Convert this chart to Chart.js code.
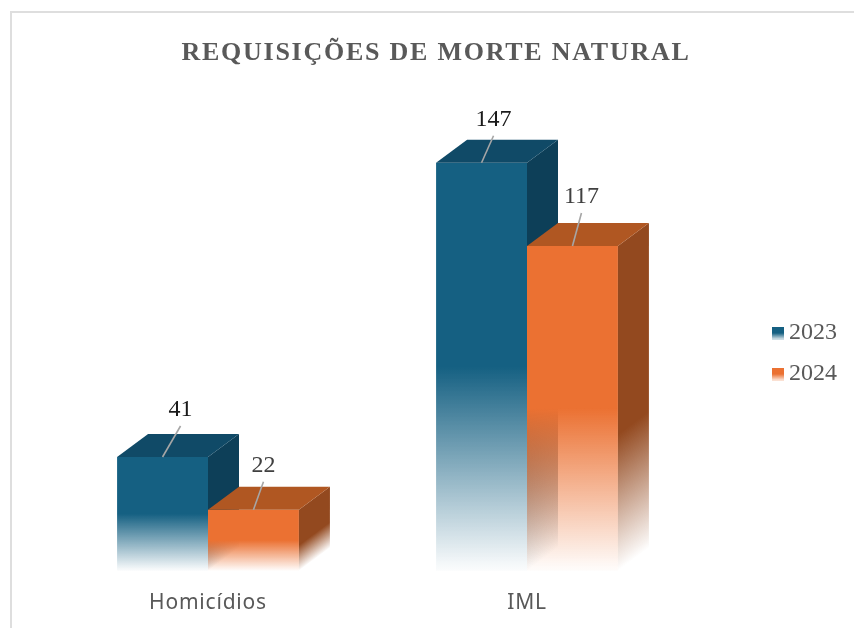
<!DOCTYPE html>
<html><head><meta charset="utf-8">
<style>html,body{margin:0;padding:0;background:#fff}#w{position:relative;width:854px;height:628px;overflow:hidden}
#w:before{content:"";position:absolute;left:10px;top:11px;right:-5px;bottom:-5px;border:2px solid #dedede}
canvas{position:absolute;left:0;top:0}</style>
<script src="https://cdn.jsdelivr.net/npm/chart.js@4"></script></head>
<body><div id="w"><canvas id="c" width="854" height="628"></canvas></div>
<script>
const categories = ['Homicídios', 'IML'];
const years = ['2023', '2024'];
const values2023 = [41, 147];
const values2024 = [22, 117];
const titleText = 'REQUISIÇÕES DE MORTE NATURAL';

const palette = [
  {front:[21,96,130], top:'#104a67', side:'#0d3f58', label:'#1a1a1a'},
  {front:[235,113,50], top:'#b05722', side:'#93491f', label:'#404040'}
];
const DX = 31, DY = 23;
// leader line offset from the front-top centre of each bar [dataset][category]
const leaders = [[[18,-31],[12,-27]], [[10,-28],[9,-33]]];

function frontGrad(ctx, top, base, p){
  const g = ctx.createLinearGradient(0, top, 0, base);
  const c = p.front.join(',');
  g.addColorStop(0, `rgb(${c})`);
  g.addColorStop(0.5, `rgb(${c})`);
  g.addColorStop(0.98, `rgba(${c},0.05)`);
  g.addColorStop(1, `rgba(${c},0.02)`);
  return g;
}
function sideColorStops(g, hex){
  const r=parseInt(hex.slice(1,3),16),gg=parseInt(hex.slice(3,5),16),b=parseInt(hex.slice(5,7),16);
  g.addColorStop(0, hex); g.addColorStop(0.58, hex);
  g.addColorStop(0.97, `rgba(${r},${gg},${b},0.08)`);
  g.addColorStop(1, `rgba(${r},${gg},${b},0)`);
}
const bg = i => c => {
  const s = c.chart.scales;
  if (!s || !s.y || c.raw === undefined) return 'rgb('+palette[i].front.join(',')+')';
  return frontGrad(c.chart.ctx, s.y.getPixelForValue(c.raw), s.y.getPixelForValue(0), palette[i]);
};
function swatch(p){
  const k = document.createElement('canvas'); k.width = 15; k.height = 13;
  const x = k.getContext('2d'), g = x.createLinearGradient(0,0,0,13), c = p.front.join(',');
  g.addColorStop(0,`rgb(${c})`); g.addColorStop(0.5,`rgb(${c})`); g.addColorStop(1,`rgba(${c},0.15)`);
  x.fillStyle = g; x.fillRect(3,0,12,13);
  return k;
}
const swatches = palette.map(swatch);

function drawFaces(chart, index){
  const ctx = chart.ctx, p = palette[index];
  chart.getDatasetMeta(index).data.forEach(el => {
    const l = el.x - el.width/2, r = el.x + el.width/2, t = el.y, b = el.base;
    // right face: skewed so the fade follows the bar's floor edge
    ctx.save();
    ctx.transform(1, -DY/DX, 0, 1, r, 0);
    const g = ctx.createLinearGradient(0, t, 0, b);
    sideColorStops(g, p.side);
    ctx.fillStyle = g;
    ctx.fillRect(0, t, DX, b - t);
    ctx.restore();
    // top face
    ctx.fillStyle = p.top;
    ctx.beginPath();
    ctx.moveTo(l, t); ctx.lineTo(l + DX, t - DY); ctx.lineTo(r + DX, t - DY); ctx.lineTo(r, t);
    ctx.closePath(); ctx.fill();
  });
}
const solid3d = {
  id:'solid3d',
  beforeDatasetsDraw(chart){
    // 2023 sits behind 2024, so paint left to right
    chart.data.datasets.forEach((d, i) => {
      chart.getDatasetMeta(i).controller.draw();
      drawFaces(chart, i);
    });
    return false;
  }
};
const callouts = {
  id:'callouts',
  afterDraw(chart){
    const ctx = chart.ctx;
    chart.data.datasets.forEach((ds, i) => {
      chart.getDatasetMeta(i).data.forEach((el, j) => {
        const [ox, oy] = leaders[i][j];
        ctx.save();
        ctx.strokeStyle = '#a6a6a6'; ctx.lineWidth = 1.6;
        ctx.beginPath(); ctx.moveTo(el.x, el.y); ctx.lineTo(el.x + ox, el.y + oy); ctx.stroke();
        ctx.fillStyle = palette[i].label;
        ctx.font = '24px "Liberation Serif"';
        ctx.textAlign = 'center'; ctx.textBaseline = 'middle';
        ctx.fillText(String(ds.data[j]), el.x + ox, el.y + oy - 16);
        ctx.restore();
      });
    });
  }
};
function spaced(box, method, ctx, amount){
  if (box['_sp'+method]) return;
  const orig = box[method];
  box[method] = function(a){ ctx.save(); ctx.letterSpacing = amount; orig.call(this, a); ctx.restore(); };
  box['_sp'+method] = true;
}
const placement = {
  id:'placement',
  afterLayout(chart){
    const lg = chart.legend, t = chart.titleBlock;
    const h = lg.bottom - lg.top, w = lg.right - lg.left;
    lg.left = 759; lg.right = lg.left + w;
    lg.top = 304; lg.bottom = lg.top + h;
    const cx = (t.left + t.right)/2, shift = 436 - cx;
    t.left += shift; t.right += shift;
  },
  beforeDraw(chart){
    spaced(chart.titleBlock, 'draw', chart.ctx, '1.75px');
    spaced(chart.scales.x, 'drawLabels', chart.ctx, '0.8px');
  }
};

new Chart(document.getElementById('c'), {
  type:'bar',
  data:{ labels:categories, datasets:[
    {label:years[0], data:values2023, backgroundColor:bg(0)},
    {label:years[1], data:values2024, backgroundColor:bg(1)}
  ]},
  options:{
    responsive:false, animation:false,
    categoryPercentage:0.57, barPercentage:1,
    layout:{padding:{left:48.5, right:79.5, top:0, bottom:0}},
    scales:{
      x:{grid:{display:false}, border:{display:false},
         ticks:{color:'#595959', font:{family:'"Noto Sans"', size:21}, padding:12, maxRotation:0}},
      y:{display:false, min:0, max:180}
    },
    plugins:{
      tooltip:{enabled:false},
      title:{display:true, text:titleText, color:'#595959',
        font:{family:'"Liberation Serif"', size:26, weight:'bold', lineHeight:1.2}, padding:{top:38, bottom:2}},
      legend:{position:'right', align:'start',
        labels:{usePointStyle:true, boxWidth:1, padding:17, color:'#595959',
          font:{family:'"Liberation Serif"', size:24},
          generateLabels:c => c.data.datasets.map((d,i)=>({text:d.label, pointStyle:swatches[i], datasetIndex:i, fontColor:'#595959', hidden:false, lineWidth:0}))}}
    }
  },
  plugins:[solid3d, callouts, placement]
});
</script></body></html>
